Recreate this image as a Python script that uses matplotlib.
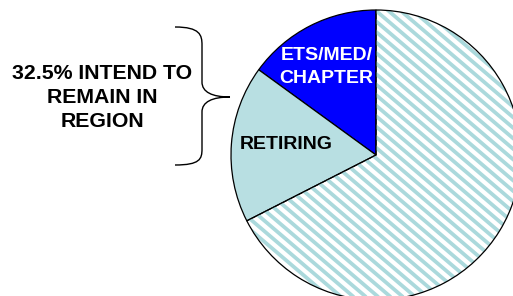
import matplotlib
matplotlib.use("Agg")
import matplotlib.pyplot as plt
from matplotlib.path import Path
from matplotlib.patches import PathPatch
import numpy as np

# slice shares (percent), counter-clockwise from 12 o'clock
labels = ["ETS/MED/\nCHAPTER", "RETIRING", ""]
shares = [15.0, 17.5, 67.5]
colors = ["#0000FF", "#B8DFE2", "white"]
text_colors = ["white", "black", "black"]
note = "32.5% INTEND TO\nREMAIN IN\nREGION"

plt.rcParams["font.family"] = ["Liberation Sans", "DejaVu Sans"]

W, H = 513, 296
fig = plt.figure(figsize=(W / 100, H / 100), dpi=100)

# pie axes: centre (376,155) px, radius 145 px
cx, cy, r = 376, 155, 145
ax = fig.add_axes([(cx - r) / W, (H - cy - r) / H, 2 * r / W, 2 * r / H])
wedges, _ = ax.pie(shares, colors=colors, startangle=90, counterclock=True,
                   wedgeprops=dict(edgecolor="black", linewidth=0.9),
                   radius=1)
ax.set_xlim(-1, 1)
ax.set_ylim(-1, 1)
ax.set_aspect("equal")
ax.axis("off")

# diagonal stripe fill for the largest slice
big = wedges[2]
ang = np.deg2rad(-40.5)
step = 0.085
for x0 in np.arange(-3, 3, step):
    xs = np.array([x0 - 2, x0 + 2])
    ys = np.tan(ang) * (xs - x0)
    ln, = ax.plot(xs, ys, color="#ABD9DC", lw=2.7, solid_capstyle="butt", zorder=1.5)
    ln.set_clip_path(big)
big.set_zorder(2)
big.set_facecolor("none")

# slice labels
ax.text(-0.34, 0.607, labels[0], color=text_colors[0], fontsize=14, fontweight="bold",
        ha="center", va="center", linespacing=1.42, zorder=3)
ax.text(-0.616, 0.069, labels[1], color=text_colors[1], fontsize=14, fontweight="bold",
        ha="center", va="center", zorder=3)

# overlay in pixel coordinates for brace and note
ov = fig.add_axes([0, 0, 1, 1])
ov.set_xlim(0, W)
ov.set_ylim(H, 0)
ov.axis("off")
ov.patch.set_alpha(0)

verts = [(175, 27), (200, 27), (202, 35), (202, 45),
         (202, 82),
         (202, 92), (212, 97), (230, 97),
         (212, 97), (202, 102), (202, 112),
         (202, 149),
         (202, 159), (200, 165), (175, 165)]
codes = [Path.MOVETO, Path.CURVE4, Path.CURVE4, Path.CURVE4,
         Path.LINETO,
         Path.CURVE4, Path.CURVE4, Path.CURVE4,
         Path.CURVE4, Path.CURVE4, Path.CURVE4,
         Path.LINETO,
         Path.CURVE4, Path.CURVE4, Path.CURVE4]
ov.add_patch(PathPatch(Path(verts, codes), facecolor="none", edgecolor="black", lw=1.0))

ov.text(102, 97.6, note, fontsize=15.3, fontweight="bold", ha="center", va="center",
        linespacing=1.35)

fig.savefig("out.png", dpi=100)
